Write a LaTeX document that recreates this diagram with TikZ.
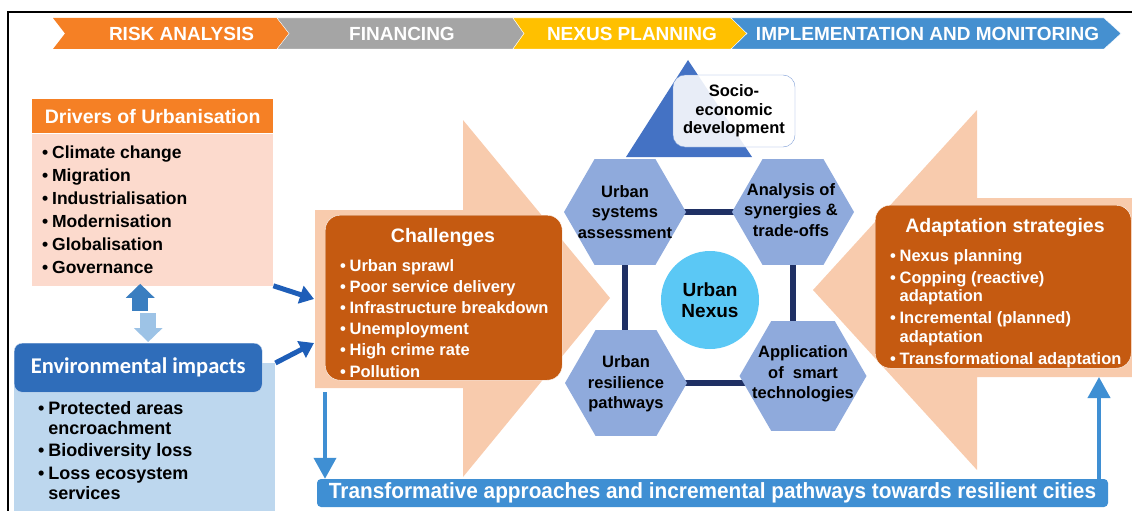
\documentclass[tikz,border=0pt]{standalone}
\usepackage{fontspec}
\setmainfont{Liberation Sans}
\newfontfamily\calib{Carlito}
\newfontfamily\narrow[FakeStretch=0.945]{Liberation Sans}
\usepackage{tikz}
\usetikzlibrary{shapes.geometric, arrows.meta, backgrounds, positioning}

\definecolor{riskorange}{HTML}{F58025}
\definecolor{fingray}{HTML}{A5A5A5}
\definecolor{nexusyellow}{HTML}{FFC000}
\definecolor{implblue}{HTML}{4590D0}
\definecolor{driverpink}{HTML}{FCDACD}
\definecolor{envdark}{HTML}{2F6DBA}
\definecolor{envlight}{HTML}{BDD7EE}
\definecolor{peach}{HTML}{F8CBAD}
\definecolor{rust}{HTML}{C55A11}
\definecolor{hexblue}{HTML}{8FAADC}
\definecolor{nexuscyan}{HTML}{5BC8F5}
\definecolor{navyline}{HTML}{1F3064}
\definecolor{triblue}{HTML}{4472C4}
\definecolor{barblue}{HTML}{3F8FD3}
\definecolor{arrowblue}{HTML}{1E5EB8}
\definecolor{upblue}{HTML}{3A7EC0}
\definecolor{downblue}{HTML}{9DC3E6}

\newcommand{\itm}{\makebox[0.57em][l]{\textbullet}} % bullet of the lists
\newcommand{\itmgap}{\hspace*{0.57em}} % indent of a wrapped line

\tikzset{
    x=1pt, y=-1pt, % one unit is one pixel of the sketch, y runs down
    bannertext/.style={text=white, font=\bfseries\fontsize{19}{21}\selectfont}, % labels of the chevrons
    titletext/.style={text=white, font=\bfseries\fontsize{19.5}{22}\selectfont}, % box titles
    listtext/.style={anchor=north west, inner sep=0pt, align=left, font=\bfseries\fontsize{17.5}{23}\selectfont}, % bullet lists
    hexnode/.style={regular polygon, regular polygon sides=6, minimum size=122pt, inner sep=0pt, fill=hexblue}, % the four hexagons
    hextext/.style={align=center, inner sep=0pt, font=\bfseries\fontsize{16.5}{20.5}\selectfont},
    bluearrow/.style={draw=arrowblue, line width=5pt, -{Triangle[width=18pt,length=14pt]}}, % into the challenges
    vertarrow/.style={draw=barblue, line width=4pt, -{Triangle[width=22pt,length=21pt]}}, % to and from the bottom bar
    fatarrow/.style={line width=16pt, -{Triangle[width=28pt,length=14pt]}}, % drivers <-> impacts
}

\begin{document}
\begin{tikzpicture}
\clip (0,0) rectangle (1132,511);
\draw[line width=2pt] (8,530) |- (1150,12);

% banner
\fill[riskorange] (53,18) -- (277,18) -- (289,33.5) -- (277,49) -- (53,49) -- (65,33.5) -- cycle;
\filldraw[fill=fingray, draw=white] (277,18) -- (513,18) -- (524,33.5) -- (513,49) -- (277,49) -- (289,33.5) -- cycle;
\filldraw[fill=nexusyellow, draw=white] (513,18) -- (731,18) -- (747,33.5) -- (731,49) -- (513,49) -- (524,33.5) -- cycle;
\filldraw[fill=implblue, draw=white] (731,18) -- (1104,18) -- (1121,33.5) -- (1104,49) -- (731,49) -- (747,33.5) -- cycle;
\node[bannertext] (risk) at (181.5,33.5) {RISK ANALYSIS};
\node[bannertext] (fin) at (402,33.5) {FINANCING};
\node[bannertext] (nexplan) at (632,33.5) {NEXUS PLANNING};
\node[bannertext] (impl) at (927.5,33.5) {IMPLEMENTATION AND MONITORING};

% big peach arrows
\fill[peach] (315,210) -- (463,210) -- (463,120) -- (610,298) -- (463,477) -- (463,388) -- (315,388) -- cycle;
\fill[peach] (1140,198) -- (977,198) -- (977,110) -- (813,290) -- (977,470) -- (977,377) -- (1140,377) -- cycle;

% drivers
\node[titletext, fill=riskorange, minimum width=241pt, minimum height=34pt, inner sep=0pt, anchor=north west] (drvhead) at (32,99) {Drivers of Urbanisation};
\node[fill=driverpink, minimum width=241pt, minimum height=152pt, inner sep=0pt, below=0pt of drvhead] (drvbody) {};
\node[listtext] (drvlist) at (42,145.5) {\itm Climate change\\ \itm Migration\\ \itm Industrialisation\\
    \itm Modernisation\\ \itm Globalisation\\ \itm Governance};

% environmental impacts
\node[fill=envlight, minimum width=261pt, minimum height=170pt, inner sep=0pt, anchor=north west] (envbody) at (14,363) {};
\node[fill=envdark, draw=white!75!envdark, rounded corners=8pt, minimum width=248pt, minimum height=49pt, inner sep=0pt,
    anchor=north west, text=white, font=\calib\bfseries\fontsize{22.5}{26}\selectfont] (envhead) at (14,343) {Environmental impacts};
\node[listtext, font=\bfseries\fontsize{18}{20}\selectfont] (envlist) at (38,401) {\itm Protected areas\\ \itmgap encroachment\\[2.5pt]
    \itm Biodiversity loss\\[3pt] \itm Loss ecosystem\\ \itmgap services};

\draw[fatarrow, upblue] ([xshift=-12.5pt, yshift=-25pt]drvbody.south) -- ([xshift=-12.5pt, yshift=2pt]drvbody.south);
\draw[fatarrow, downblue] ([xshift=10pt, yshift=30pt]envhead.north) -- ([xshift=10pt, yshift=1pt]envhead.north);

% challenges
\coordinate (chin1) at (314,299);
\coordinate (chin2) at (314,343);
\draw[bluearrow] (drvbody.south east) -- (chin1);
\draw[bluearrow] (envbody.north east) -- (chin2);
\node[fill=rust, draw=white, rounded corners=15pt, minimum width=237pt, minimum height=165pt, anchor=north west] (chal) at (325,215) {};
\node[titletext] (chaltitle) at (443,237) {Challenges};
\node[listtext, text=white, font=\bfseries\fontsize{16.5}{21.2}\selectfont] (challist) at (340,259) {\itm Urban sprawl\\
    \itm Poor service delivery\\ \itm Infrastructure breakdown\\ \itm Unemployment\\ \itm High crime rate\\ \itm Pollution};

% adaptation strategies
\node[fill=rust, draw=white, rounded corners=15pt, minimum width=256pt, minimum height=163pt, anchor=north west] (adapt) at (875,205) {};
\node[titletext] (adapttitle) at (1005,227) {Adaptation strategies};
\node[listtext, text=white, font=\bfseries\fontsize{16.5}{18.5}\selectfont] (adaptlist) at (890,249) {\itm Nexus planning\\[3.5pt]
    \itm Copping (reactive)\\ \itmgap adaptation\\[3.5pt] \itm Incremental (planned)\\ \itmgap adaptation\\[3.5pt]
    \itm Transformational adaptation};

% nexus
\fill[triblue] (688,60) -- (752,157) -- (626,157) -- cycle;
\node[fill=white, fill opacity=0.88, text opacity=1, draw=triblue!70, rounded corners=12pt, minimum width=122pt, minimum height=72pt,
    align=center, font=\bfseries\fontsize{16.5}{18.5}\selectfont] (socio) at (734,111) {Socio-\\economic\\development};

\node[hexnode] (usa) at (625,212) {};
\node[hexnode] (asy) at (793,212) {};
\node[hexnode] (rp) at (626,383) {};
\node[hexnode, minimum size=127pt] (apt) at (803,376) {};
\node[hextext] (usatext) at (usa) {Urban\\systems\\assessment};
\node[hextext] (asytext) at (791,210) {Analysis of\\synergies \&\\trade-offs};
\node[hextext] (rptext) at (626,384) {Urban\\resilience\\pathways};
\node[hextext] (apttext) at (803,374) {Application\\of \ smart\\technologies};
\node[circle, fill=nexuscyan, minimum size=98pt, inner sep=0pt, align=center, font=\bfseries\fontsize{19}{20.5}\selectfont] (nexus) at (710,300) {Urban\\Nexus};

\begin{pgfonlayer}{background}
\draw[navyline, line width=6pt] (usa.center) -- (asy.center);
\draw[navyline, line width=6pt] (usa.center) -- (usa.center |- rp.center);
\draw[navyline, line width=6pt] (asy.center) -- (asy.center |- apt.center);
\draw[navyline, line width=6pt] (rp.center) -- (rp.center -| apt.center);
\end{pgfonlayer}

% bottom bar
\node[fill=barblue, rounded corners=4pt, minimum width=791pt, minimum height=28pt, inner sep=0pt, text=white,
    font=\narrow\bfseries\fontsize{22}{24}\selectfont] (bar) at (712.5,493) {Transformative approaches and incremental pathways towards resilient cities};
\coordinate (chout) at (325,392);
\coordinate (adin) at (1099,377);
\draw[vertarrow] (chout) -- (chout |- bar.north);
\draw[vertarrow] (bar.north -| adin) -- (adin);
\end{tikzpicture}
\end{document}
